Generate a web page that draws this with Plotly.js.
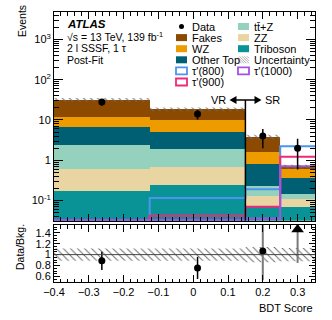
<!DOCTYPE html>
<html>
<head>
<meta charset="utf-8">
<script src="https://cdn.plot.ly/plotly-3.0.1.min.js"></script>
<style>
  body { margin: 0; background: white; }
  #bdtPlot { width: 332px; height: 320px; }
</style>
</head>
<body>
<div id="bdtPlot"></div>
<script>
// bin edges of the BDT score histogram
let binEdges = [-0.4, -0.125, 0.15, 0.25, 0.35];

// post-fit background yields per bin (stack order: bottom to top)
let triboson = [0.175, 0.247, 0.071, 0.068];
let zz = [0.435, 0.42, 0.06, 0.04];
let ttz = [1.76, 1.28, 0.102, 0.039];
let otherTop = [4.33, 3.18, 0.597, 0.216];
let wz = [5.2, 4.87, 0.75, 0.257];
let fakes = [19.7, 8.5, 2.18, 0.075];

// observed data and its uncertainty
let dataCounts = [28, 14, 4, 2];
let dataErr = [5.3, 3.74, 2.0, 1.41];

// relative background uncertainty
let relUnc = [0.11, 0.11, 0.14, 0.12];

// signal hypotheses
let tau800 = [0.02, 0.115, 0.19, 2.24];
let tau900 = [0.01, 0.042, 0.07, 1.22];
let tau1000 = [0.033, 0.033, 0.036, 0.71];

let yTickVals = [0.1, 1, 10, 100, 1000];
let yTickText = ["10<sup>-1</sup>", "1", "10", "10<sup>2</sup>", "10<sup>3</sup>"];

let plotDiv = document.getElementById("bdtPlot");

function makeBdtPlot(div) {
  let fontFam = "Liberation Sans, Arial, sans-serif";
  let nBins = binEdges.length - 1;
  let centers = [], widths = [];
  for (let i = 0; i < nBins; i++) {
    centers.push((binEdges[i] + binEdges[i + 1]) / 2);
    widths.push(binEdges[i + 1] - binEdges[i]);
  }

  let bkgs = [
    { name: "Triboson", y: triboson, color: "#0a9396" },
    { name: "ZZ", y: zz, color: "#e9d5a1" },
    { name: "tt\u0304+Z", y: ttz, color: "#94d2bd" },
    { name: "Other Top", y: otherTop, color: "#005f73" },
    { name: "WZ", y: wz, color: "#ee9b00" },
    { name: "Fakes", y: fakes, color: "#8b4a00" }
  ];

  let total = centers.map((c, i) => bkgs.reduce((s, b) => s + b.y[i], 0));

  let data = [];
  bkgs.forEach(b => {
    data.push({
      type: "bar", x: centers, y: b.y, width: widths,
      marker: { color: b.color, line: { width: 0 } },
      xaxis: "x", yaxis: "y", showlegend: false, hoverinfo: "skip"
    });
  });

  // step outline helper
  function steps(vals) {
    return { x: binEdges.slice(), y: vals.concat([vals[vals.length - 1]]) };
  }
  let signals = [
    { vals: tau800, color: "#4d94f0" },
    { vals: tau900, color: "#f0287a" },
    { vals: tau1000, color: "#a452e6" }
  ];
  signals.forEach(s => {
    let st = steps(s.vals);
    data.push({
      type: "scatter", mode: "lines", x: st.x, y: st.y,
      line: { shape: "hv", color: s.color, width: 2 },
      xaxis: "x", yaxis: "y", showlegend: false, hoverinfo: "skip"
    });
  });

  // hatched uncertainty band
  function band(up, down) {
    let bx = [], by = [];
    for (let i = 0; i < nBins; i++) {
      bx.push(binEdges[i], binEdges[i + 1]);
      by.push(up[i], up[i]);
    }
    for (let i = nBins - 1; i >= 0; i--) {
      bx.push(binEdges[i + 1], binEdges[i]);
      by.push(down[i], down[i]);
    }
    return { x: bx, y: by };
  }
  let hatch = { shape: "\\", fgcolor: "#6a6a6a", bgcolor: "rgba(0,0,0,0)", size: 5, solidity: 0.2 };
  let mainBand = band(total.map((t, i) => t * (1 + relUnc[i])), total.map((t, i) => t * (1 - relUnc[i])));
  data.push({
    type: "scatter", mode: "lines", x: mainBand.x, y: mainBand.y, fill: "toself",
    fillcolor: "rgba(0,0,0,0)", fillpattern: hatch, line: { width: 0 },
    xaxis: "x", yaxis: "y", showlegend: false, hoverinfo: "skip"
  });

  data.push({
    type: "scatter", mode: "markers", x: centers, y: dataCounts,
    marker: { color: "black", size: 7 },
    error_y: { type: "data", array: dataErr, color: "black", thickness: 1.5, width: 0 },
    xaxis: "x", yaxis: "y", showlegend: false, hoverinfo: "skip"
  });

  // ratio panel
  let ratioTop = 1.54;
  let ratioBand = band(relUnc.map(u => 1 + u), relUnc.map(u => 1 - u));
  data.push({
    type: "scatter", mode: "lines", x: ratioBand.x, y: ratioBand.y, fill: "toself",
    fillcolor: "rgba(0,0,0,0)", fillpattern: hatch, line: { width: 0 },
    xaxis: "x2", yaxis: "y2", showlegend: false, hoverinfo: "skip"
  });
  let ratio = dataCounts.map((d, i) => d / total[i]);
  let ratioErr = dataErr.map((e, i) => e / total[i]);
  let inIdx = [], outIdx = [];
  ratio.forEach((r, i) => {
    if (r + ratioErr[i] < ratioTop && r - ratioErr[i] > 0.5) inIdx.push(i); else outIdx.push(i);
  });
  data.push({
    type: "scatter", mode: "markers", x: outIdx.map(i => centers[i]), y: outIdx.map(i => ratio[i]),
    marker: { color: "black", size: 7 },
    error_y: { type: "data", array: outIdx.map(i => ratioErr[i]), color: "#7a7a7a", thickness: 2, width: 0 },
    xaxis: "x2", yaxis: "y2", showlegend: false, hoverinfo: "skip"
  });
  data.push({
    type: "scatter", mode: "markers", x: inIdx.map(i => centers[i]), y: inIdx.map(i => ratio[i]),
    marker: { color: "black", size: 7 },
    error_y: { type: "data", array: inIdx.map(i => ratioErr[i]), color: "black", thickness: 1.5, width: 0 },
    xaxis: "x2", yaxis: "y2", showlegend: false, hoverinfo: "skip"
  });
  // off-scale points shown as arrows at the top
  let offIdx = ratio.map((r, i) => i).filter(i => ratio[i] > ratioTop);
  data.push({
    type: "scatter", mode: "markers", x: offIdx.map(i => centers[i]), y: offIdx.map(i => 1.46),
    marker: { color: "black", size: 11, symbol: "triangle-up" },
    xaxis: "x2", yaxis: "y2", showlegend: false, hoverinfo: "skip"
  });

  // pixel helpers for the hand drawn legend (layout only)
  let L = 54, R = 315, T = 12, B = 282;
  let px = x => (x - L) / (R - L);
  let py = y => (B - y) / (B - T);

  let annotations = [];
  let shapes = [];
  let txt = (x, y, text, opts) => Object.assign({
    xref: "paper", yref: "paper", x: px(x), y: py(y), text: text, showarrow: false,
    xanchor: "left", yanchor: "middle", font: { family: fontFam, size: 11, color: "black" }
  }, opts || {});

  annotations.push(txt(65, 24, "<b><i>ATLAS</i></b>", { font: { family: fontFam, size: 11.5, color: "black" } }));
  annotations.push(txt(65, 36, "\u221As = 13 TeV, 139 fb<sup>-1</sup>", { font: { family: fontFam, size: 10.5, color: "black" } }));
  annotations.push(txt(65, 48, "2 l SSSF, 1 \u03c4", { font: { family: fontFam, size: 10.5, color: "black" } }));
  annotations.push(txt(65, 59.5, "Post-Fit", { font: { family: fontFam, size: 10.5, color: "black" } }));

  // legend (two columns, row major)
  let legendItems = [
    { label: "Data", kind: "data" },
    { label: "tt\u0304+Z", kind: "fill", color: "#94d2bd" },
    { label: "Fakes", kind: "fill", color: "#8b4a00" },
    { label: "ZZ", kind: "fill", color: "#e9d5a1" },
    { label: "WZ", kind: "fill", color: "#ee9b00" },
    { label: "Triboson", kind: "fill", color: "#0a9396" },
    { label: "Other Top", kind: "fill", color: "#005f73" },
    { label: "Uncertainty", kind: "hatch" },
    { label: "\u03c4'(800)", kind: "line", color: "#4d94f0" },
    { label: "\u03c4'(1000)", kind: "line", color: "#a452e6" },
    { label: "\u03c4'(900)", kind: "line", color: "#f0287a" }
  ];
  let colX = [176, 238];
  legendItems.forEach((it, k) => {
    let cx = colX[k % 2], cy = 26.5 + 11.1 * Math.floor(k / 2);
    let x0 = px(cx), x1 = px(cx + 11), y0 = py(cy + 3.5), y1 = py(cy - 3.5);
    if (it.kind === "fill") {
      shapes.push({ type: "rect", xref: "paper", yref: "paper", x0: x0, x1: x1, y0: y0, y1: y1,
        fillcolor: it.color, line: { width: 0 } });
    } else if (it.kind === "line") {
      shapes.push({ type: "rect", xref: "paper", yref: "paper", x0: x0, x1: x1, y0: y0, y1: y1,
        fillcolor: "white", line: { color: it.color, width: 1.8 } });
    } else if (it.kind === "data") {
      shapes.push({ type: "circle", xref: "paper", yref: "paper", x0: px(cx + 3), x1: px(cx + 8),
        y0: py(cy + 2.5), y1: py(cy - 2.5), fillcolor: "black", line: { width: 0 } });
    } else {
      for (let h = -6; h <= 10; h += 2.5) {
        let a = Math.max(0, h), b = Math.min(11, h + 7);
        if (b <= a) continue;
        shapes.push({ type: "line", xref: "paper", yref: "paper",
          x0: px(cx + a), y0: py(cy - 3.5 + (a - h)), x1: px(cx + b), y1: py(cy - 3.5 + (b - h)),
          line: { color: "#8a8a8a", width: 0.7 } });
      }
    }
    annotations.push(txt(cx + 13.5, cy, it.label));
  });

  // VR / SR divider with double arrow
  let arrowY = 100, leftTip = 229.5, rightTip = 261.5;
  shapes.push({ type: "line", xref: "x", yref: "paper", x0: 0.15, x1: 0.15, y0: py(220.7), y1: py(arrowY),
    line: { color: "black", width: 1.5 } });
  shapes.push({ type: "line", xref: "paper", yref: "paper", x0: px(leftTip + 4), x1: px(rightTip - 4),
    y0: py(arrowY), y1: py(arrowY), line: { color: "black", width: 1.5 } });
  let tri = (tip, dir) => "M " + px(tip) + " " + py(arrowY) +
    " L " + px(tip + dir * 7) + " " + py(arrowY - 4) +
    " L " + px(tip + dir * 7) + " " + py(arrowY + 4) + " Z";
  shapes.push({ type: "path", xref: "paper", yref: "paper", path: tri(leftTip, 1), fillcolor: "black", line: { width: 0 } });
  shapes.push({ type: "path", xref: "paper", yref: "paper", path: tri(rightTip, -1), fillcolor: "black", line: { width: 0 } });
  annotations.push(txt(leftTip - 1.5, arrowY, "VR", { xanchor: "right" }));
  annotations.push(txt(rightTip + 1, arrowY, "SR"));

  // ratio reference line
  shapes.push({ type: "line", xref: "x2", yref: "y2", x0: binEdges[0], x1: binEdges[nBins], y0: 1, y1: 1,
    line: { color: "#444", width: 1 } });

  // axis titles
  annotations.push(txt(22, 21, "Events", { textangle: -90, xanchor: "center", font: { family: fontFam, size: 10.5, color: "black" } }));
  annotations.push(txt(20, 247, "Data/Bkg.", { textangle: -90, xanchor: "center", font: { family: fontFam, size: 10.5, color: "black" } }));
  annotations.push(txt(315, 308, "BDT Score", { xanchor: "right" }));

  let axisCommon = {
    showline: true, linecolor: "black", linewidth: 1, mirror: "allticks", ticks: "inside",
    tickcolor: "black", showgrid: false, zeroline: false
  };

  let layout = {
    width: 332, height: 320,
    margin: { l: L, r: 332 - R, t: T, b: 320 - B },
    paper_bgcolor: "white", plot_bgcolor: "white",
    font: { family: fontFam, size: 11, color: "black" },
    barmode: "stack", bargap: 0, showlegend: false,
    xaxis: Object.assign({}, axisCommon, {
      anchor: "y", range: [binEdges[0], binEdges[nBins]], showticklabels: false,
      tick0: 0, dtick: 0.1, ticklen: 7,
      minor: { ticks: "inside", ticklen: 3.5, dtick: 0.02, tickcolor: "black" }
    }),
    yaxis: Object.assign({}, axisCommon, {
      anchor: "x", type: "log", domain: [0.227, 1], range: [-1.5, 3.68],
      tickmode: "array", tickvals: yTickVals, ticktext: yTickText, ticklen: 9,
      tickfont: { size: 11 },
      minor: { ticks: "inside", ticklen: 5, dtick: "D1", tickcolor: "black" }
    }),
    xaxis2: Object.assign({}, axisCommon, {
      anchor: "y2", range: [binEdges[0], binEdges[nBins]],
      tick0: 0, dtick: 0.1, ticklen: 7, tickfont: { size: 11 },
      minor: { ticks: "inside", ticklen: 3.5, dtick: 0.02, tickcolor: "black" }
    }),
    yaxis2: Object.assign({}, axisCommon, {
      anchor: "x2", domain: [0, 0.211], range: [0.5, ratioTop],
      tick0: 0, dtick: 0.2, ticklen: 6, tickfont: { size: 11 },
      minor: { ticks: "inside", ticklen: 3, dtick: 0.05, tickcolor: "black" }
    }),
    annotations: annotations,
    shapes: shapes
  };

  Plotly.newPlot(div, data, layout, { staticPlot: true });
}

makeBdtPlot(plotDiv);
</script>
</body>
</html>
